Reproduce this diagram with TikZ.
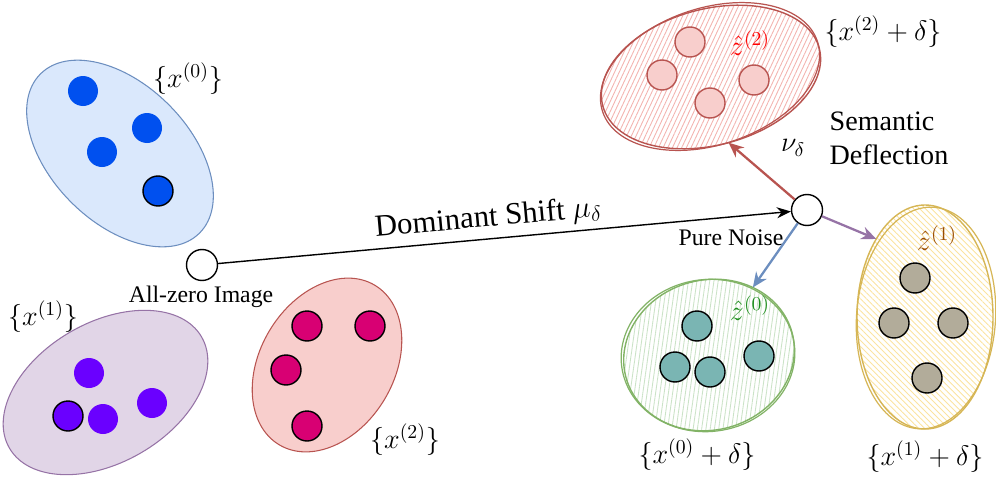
\documentclass[tikz,border=0pt]{standalone}
\usepackage{fix-cm}
\usepackage{fontspec}
\setmainfont{Liberation Serif}
\usepackage{tikz}
\usetikzlibrary{shapes.geometric}
\usetikzlibrary{arrows.meta,patterns.meta,positioning}

\definecolor{blueFill}{HTML}{DAE8FC}
\definecolor{blueLine}{HTML}{6C8EBF}
\definecolor{blueDot}{HTML}{0050EF}
\definecolor{purpleFill}{HTML}{E1D5E7}
\definecolor{purpleLine}{HTML}{9673A6}
\definecolor{purpleDot}{HTML}{6A00FF}
\definecolor{redFill}{HTML}{F8CECC}
\definecolor{redLine}{HTML}{B85450}
\definecolor{redDot}{HTML}{D80073}
\definecolor{redHatch}{HTML}{F3B3AF}
\definecolor{greenLine}{HTML}{82B366}
\definecolor{greenHatch}{HTML}{CBE3C7}
\definecolor{tealDot}{HTML}{7AB5B3}
\definecolor{yellowLine}{HTML}{D6B656}
\definecolor{yellowHatch}{HTML}{FBE3A0}
\definecolor{greyDot}{HTML}{B2AC9A}
\definecolor{zGreen}{HTML}{1F8F1F}
\definecolor{zBrown}{HTML}{994C00}

\begin{document}
\begin{tikzpicture}
\tikzstyle{set}=[ellipse, line width=0.6pt, outer sep=0pt, inner sep=0pt,
    minimum width=4.5cm, minimum height=2.76cm]
\tikzstyle{dot}=[circle, minimum size=0.6cm, inner sep=0pt]
\tikzstyle{ring}=[draw, line width=0.8pt]
\tikzstyle{state}=[circle, draw, fill=white, line width=0.8pt,
    minimum size=0.62cm, inner sep=0pt]
\tikzstyle{lab}=[font=\rmfamily\fontsize{16}{19}\selectfont]
\tikzstyle{small}=[font=\rmfamily\fontsize{13.5}{16}\selectfont]
\tikzstyle{flow}=[line width=1.3pt, -{Stealth[length=0.3cm, width=0.26cm]}]

\useasboundingbox (0,0) rectangle (19.92,-9.64);

% clean data sets
\node[set, draw=blueLine, fill=blueFill, rotate=-45] (s0) at (2.40,-3.07) {};
\node[set, draw=purpleLine, fill=purpleFill, rotate=30,
    minimum width=4.44cm, minimum height=2.8cm] (s1) at (2.11,-7.85) {};
\node[set, draw=redLine, fill=redFill, rotate=59,
    minimum width=3.72cm, minimum height=2.68cm] (s2) at (6.54,-7.30) {};

\node[dot, fill=blueDot] (a1) at (1.66,-1.82) {};
\node[dot, fill=blueDot] (a2) at (2.94,-2.56) {};
\node[dot, fill=blueDot] (a3) at (2.04,-3.04) {};
\node[dot, ring, fill=blueDot] (a4) at (3.16,-3.82) {};

\node[dot, fill=purpleDot] (b1) at (1.78,-7.46) {};
\node[dot, ring, fill=purpleDot] (b2) at (1.36,-8.32) {};
\node[dot, fill=purpleDot] (b3) at (2.06,-8.38) {};
\node[dot, fill=purpleDot] (b4) at (3.04,-8.06) {};

\node[dot, ring, fill=redDot] (c1) at (6.14,-6.52) {};
\node[dot, ring, fill=redDot] (c2) at (7.40,-6.52) {};
\node[dot, ring, fill=redDot] (c3) at (5.72,-7.40) {};
\node[dot, ring, fill=redDot] (c4) at (6.14,-8.52) {};

\node[lab] (l0) at (3.76,-1.58) {$\{x^{(0)}\}$};
\node[lab] (l1) at (0.86,-6.34) {$\{x^{(1)}\}$};
\node[lab] (l2) at (8.10,-8.80) {$\{x^{(2)}\}$};

% noisy sets (sketchy)
\node[set, draw=redLine, line width=0.8pt, rotate=15,
    minimum width=4.48cm, minimum height=2.72cm,
    pattern={Lines[angle=65, distance=2.4pt, line width=0.5pt]},
    pattern color=redHatch] (t2) at (14.22,-1.54) {};
\draw[redLine, line width=0.7pt, rotate around={18:(14.20,-1.53)}]
    (14.20,-1.53) ellipse (2.26 and 1.37);
\node[set, draw=greenLine, line width=0.8pt, rotate=15,
    minimum width=3.44cm, minimum height=3.0cm,
    pattern={Lines[angle=82, distance=2.4pt, line width=0.5pt]},
    pattern color=greenHatch] (t0) at (14.18,-7.10) {};
\draw[greenLine, line width=0.7pt, rotate around={7:(14.16,-7.11)}]
    (14.16,-7.11) ellipse (1.74 and 1.52);
\node[set, draw=yellowLine, line width=0.8pt,
    minimum width=2.72cm, minimum height=4.48cm,
    pattern={Lines[angle=-45, distance=2.4pt, line width=0.5pt]},
    pattern color=yellowHatch] (t1) at (18.50,-6.34) {};
\draw[yellowLine, line width=0.7pt, rotate around={-4:(18.52,-6.36)}]
    (18.52,-6.36) ellipse (1.39 and 2.22);

\node[dot, draw=redLine, line width=0.8pt, fill=redFill] (d1) at (13.80,-0.84) {};
\node[dot, draw=redLine, line width=0.8pt, fill=redFill] (d2) at (13.24,-1.50) {};
\node[dot, draw=redLine, line width=0.8pt, fill=redFill] (d3) at (15.08,-1.60) {};
\node[dot, draw=redLine, line width=0.8pt, fill=redFill] (d4) at (14.20,-2.06) {};

\node[dot, ring, fill=tealDot] (e1) at (13.94,-6.52) {};
\node[dot, ring, fill=tealDot] (e2) at (13.50,-7.34) {};
\node[dot, ring, fill=tealDot] (e3) at (14.20,-7.44) {};
\node[dot, ring, fill=tealDot] (e4) at (15.18,-7.12) {};

\node[dot, ring, fill=greyDot] (f1) at (18.30,-5.56) {};
\node[dot, ring, fill=greyDot] (f2) at (17.88,-6.46) {};
\node[dot, ring, fill=greyDot] (f3) at (19.06,-6.46) {};
\node[dot, ring, fill=greyDot] (f4) at (18.54,-7.56) {};

\node[lab, text=red] (z2) at (15.0,-0.86) {$\hat{z}^{(2)}$};
\node[lab, text=zGreen] (z0) at (15.0,-6.16) {$\hat{z}^{(0)}$};
\node[lab, text=zBrown] (z1) at (18.74,-4.76) {$\hat{z}^{(1)}$};

\node[lab] (m2) at (17.66,-0.64) {$\{x^{(2)}+\delta\}$};
\node[lab] (m0) at (13.94,-9.10) {$\{x^{(0)}+\delta\}$};
\node[lab] (m1) at (18.50,-9.14) {$\{x^{(1)}+\delta\}$};

% start and noise points
\node[state] (zero) at (4.04,-5.30) {};
\node[small] (zerotxt) at (4.02,-5.94) {All-zero Image};
\node[state] (noise) at (16.14,-4.20) {};
\node[small] (noisetxt) at (14.62,-4.76) {Pure Noise};

\draw[line width=0.8pt, -{Stealth[length=0.28cm, width=0.22cm]}] (zero) --
    node[sloped, above, pos=0.475, font=\rmfamily\fontsize{17.5}{20}\selectfont]
    {Dominant Shift $\mu_\delta$} (noise);
\draw[flow, redLine] (noise) -- (t2.south);
\draw[flow, blueLine] (noise) -- (t0.42);
\draw[flow, purpleLine] (noise) -- (t1.122);

\node[lab] (nu) at (15.86,-2.96) {$\nu_\delta$};
\node[lab, align=left] (sem) at (17.78,-2.77) {Semantic\\Deflection};

\end{tikzpicture}
\end{document}
